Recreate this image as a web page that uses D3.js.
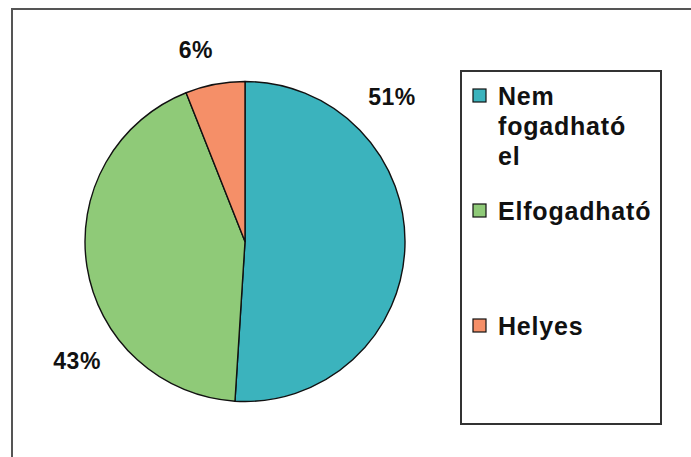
<!DOCTYPE html>
<html>
<head>
<meta charset="utf-8">
<script src="https://cdn.jsdelivr.net/npm/d3@7/dist/d3.min.js"></script>
<style>
  html, body { margin: 0; padding: 0; background: #fff; }
  svg { display: block; }
  text { font-family: "Liberation Sans", Arial, sans-serif; font-weight: bold; fill: #111; }
</style>
</head>
<body>
<svg id="chart" width="691" height="457"></svg>
<script>
// Answer categories and their shares (percent)
const categories = ["Nem fogadható el", "Elfogadható", "Helyes"];
const legendLines = [["Nem", "fogadható", "el"], ["Elfogadható"], ["Helyes"]];
const values = [51, 43, 6];
const colors = ["#3bb3bd", "#8fca78", "#f58f68"];

const svg = d3.select("#chart");
const W = 691, H = 457;

// outer frame (only top and left edges fall inside the view)
svg.append("rect")
  .attr("x", 12).attr("y", 9)
  .attr("width", W + 20).attr("height", H + 20)
  .attr("fill", "#fff").attr("stroke", "#555").attr("stroke-width", 2);

const cx = 245, cy = 241.5, r = 160;

const pie = d3.pie().sort(null).value(d => d)(values);
const arc = d3.arc().innerRadius(0).outerRadius(r);

const g = svg.append("g").attr("transform", `translate(${cx},${cy})`);
g.selectAll("path.slice")
  .data(pie)
  .join("path")
  .attr("class", "slice")
  .attr("d", arc)
  .attr("fill", (d, i) => colors[i])
  .attr("stroke", "#111")
  .attr("stroke-width", 1.4)
  .attr("stroke-linejoin", "round");

// percentage labels: direction (deg, clockwise from top) and distance from centre
const labelPlacement = [
  { angle: 45.5, dist: 206 },
  { angle: 234.6, dist: 206 },
  { angle: 345.6, dist: 198 }
];
g.selectAll("text.pct")
  .data(pie)
  .join("text")
  .attr("class", "pct")
  .attr("x", (d, i) => labelPlacement[i].dist * Math.sin(labelPlacement[i].angle * Math.PI / 180))
  .attr("y", (d, i) => -labelPlacement[i].dist * Math.cos(labelPlacement[i].angle * Math.PI / 180))
  .attr("text-anchor", "middle")
  .attr("dy", "0.35em")
  .attr("font-size", 23)
  .attr("letter-spacing", 0.5)
  .text(d => `${d.data}%`);

// legend box
const lg = svg.append("g");
lg.append("rect")
  .attr("x", 461).attr("y", 71)
  .attr("width", 200).attr("height", 353)
  .attr("fill", "#fff").attr("stroke", "#333").attr("stroke-width", 2);

const entryY = d3.scalePoint().domain(categories).range([96, 326]);
const entries = lg.selectAll("g.entry")
  .data(categories)
  .join("g")
  .attr("class", "entry")
  .attr("transform", d => `translate(0,${entryY(d)})`);

entries.append("rect")
  .attr("x", 473).attr("y", -7)
  .attr("width", 13).attr("height", 13)
  .attr("fill", (d, i) => colors[i])
  .attr("stroke", "#111").attr("stroke-width", 1.2);

entries.each(function (d, i) {
  const t = d3.select(this).append("text")
    .attr("x", 498).attr("y", 0)
    .attr("font-size", 25)
    .attr("letter-spacing", 0.8);
  legendLines[i].forEach((line, j) => {
    t.append("tspan")
      .attr("x", 498)
      .attr("y", j * 30)
      .attr("dy", "0.35em")
      .text(line);
  });
});
</script>
</body>
</html>
